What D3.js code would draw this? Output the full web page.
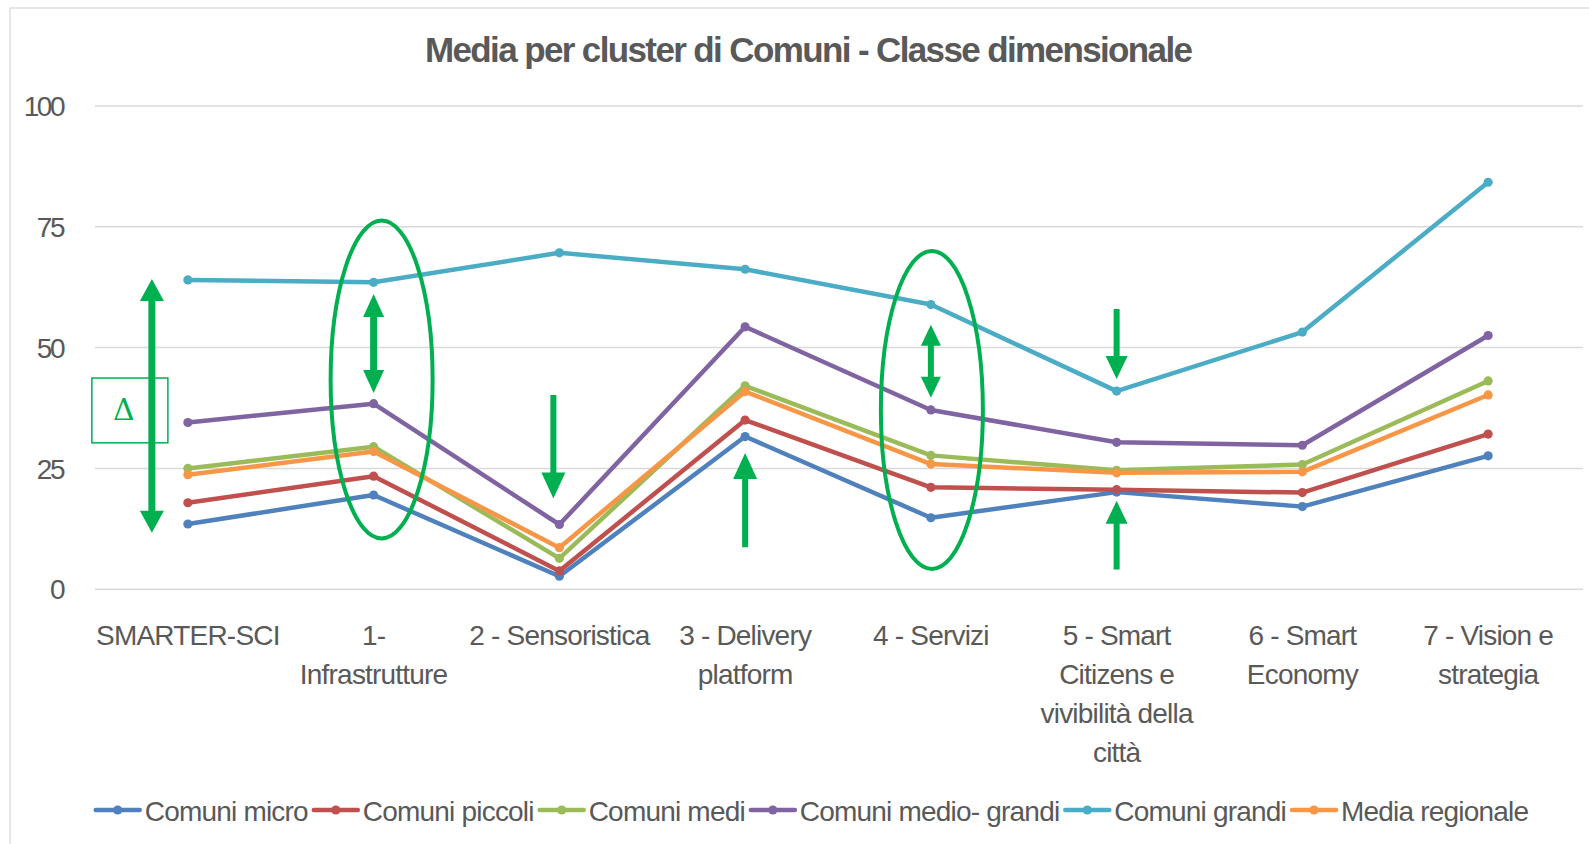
<!DOCTYPE html>
<html><head><meta charset="utf-8">
<script src="https://cdn.jsdelivr.net/npm/d3@7"></script>
<style>body{margin:0;background:#fff;} svg{display:block;font-family:"Liberation Sans",Arial,sans-serif;}</style>
</head><body><svg id="chart" width="1589" height="844"></svg>
<script>
const categories = ["SMARTER-SCI","1-\nInfrastrutture","2 - Sensoristica","3 - Delivery\nplatform","4 - Servizi","5 - Smart\nCitizens e\nvivibilità della\ncittà","6 - Smart\nEconomy","7 - Vision e\nstrategia"];
const seriesNames = ["Comuni micro","Comuni piccoli","Comuni medi","Comuni medio- grandi","Comuni grandi","Media regionale"];
const comuniMicro       = [13.4, 19.4,  2.6, 31.5, 14.7, 20.0, 17.0, 27.5];
const comuniPiccoli     = [17.8, 23.3,  3.7, 34.9, 21.0, 20.5, 19.9, 32.0];
const comuniMedi        = [24.9, 29.4,  6.3, 42.0, 27.6, 24.5, 25.7, 43.0];
const comuniMedioGrandi = [34.4, 38.3, 13.3, 54.2, 37.0, 30.3, 29.7, 52.4];
const comuniGrandi      = [63.9, 63.4, 69.5, 66.1, 58.8, 40.9, 53.1, 84.1];
const mediaRegionale    = [23.6, 28.4,  8.5, 40.8, 25.8, 24.0, 24.2, 40.1];
const yTicks = [0, 25, 50, 75, 100];
const titleText = "Media per cluster di Comuni - Classe dimensionale";

const seriesValues = [comuniMicro, comuniPiccoli, comuniMedi, comuniMedioGrandi, comuniGrandi, mediaRegionale];
const seriesColors = ["#4F81BD","#C0504D","#9BBB59","#8064A2","#4BACC6","#F79646"];
const textColor = "#595959", gridColor = "#D9D9D9", green = "#00B050";

const svg = d3.select("#chart");
svg.append("rect").attr("x",10).attr("y",8).attr("width",1620).attr("height",900)
  .attr("fill","#fff").attr("stroke",gridColor).attr("stroke-width",1.3);

const x = d3.scalePoint().domain(d3.range(categories.length)).range([95,1581]).padding(0.5);
const y = d3.scaleLinear().domain([0,100]).range([588.8,105.4]);

// gridlines + y axis labels
const yAxis = d3.axisLeft(y).tickValues(yTicks).tickSize(-(1583-95)).tickPadding(32);
const gy = svg.append("g").attr("transform","translate(95,0)").call(yAxis);
gy.select(".domain").remove();
gy.selectAll(".tick line").attr("stroke",gridColor).attr("stroke-width",1.5);
gy.selectAll(".tick text").attr("fill",textColor).attr("font-size",28).attr("letter-spacing",-2.5)
  .attr("font-family","Liberation Sans, Arial, sans-serif").attr("dy","0.36em");

// x labels
const gx = svg.append("g");
categories.forEach((c,i)=>{
  const t = gx.append("text").attr("x",x(i)).attr("y",645).attr("text-anchor","middle")
    .attr("fill",textColor).attr("font-size",28).attr("letter-spacing",-0.8);
  c.split("\n").forEach((ln,k)=>{
    t.append("tspan").attr("x",x(i)).attr("y",645+k*39).text(ln);
  });
});

// title
svg.append("text").attr("x",809).attr("y",62).attr("text-anchor","middle")
  .attr("fill",textColor).attr("font-size",35).attr("font-weight","bold")
  .attr("textLength",768).attr("lengthAdjust","spacing").text(titleText);

// series
const line = d3.line().x((d,i)=>x(i)).y(d=>y(d));
seriesValues.forEach((vals,s)=>{
  const g = svg.append("g");
  g.append("path").datum(vals).attr("d",line).attr("fill","none")
    .attr("stroke",seriesColors[s]).attr("stroke-width",4.5).attr("stroke-linejoin","round");
  g.selectAll("circle").data(vals).join("circle")
    .attr("cx",(d,i)=>x(i)).attr("cy",d=>y(d)).attr("r",4.6).attr("fill",seriesColors[s]);
});

// annotations (green)
function arrowPts(px, yFrom, yTo, shaft, headW, headL, both){
  const d = yTo > yFrom ? 1 : -1;
  const baseTo = yTo - d*headL, baseFrom = both ? yFrom + d*headL : yFrom;
  const pts = [];
  if (both) pts.push([px,yFrom],[px+headW/2,baseFrom],[px+shaft/2,baseFrom]);
  else pts.push([px+shaft/2,yFrom]);
  pts.push([px+shaft/2,baseTo],[px+headW/2,baseTo],[px,yTo],[px-headW/2,baseTo],[px-shaft/2,baseTo]);
  if (both) pts.push([px-shaft/2,baseFrom],[px-headW/2,baseFrom]);
  else pts.push([px-shaft/2,yFrom]);
  return pts;
}
const arrows = [
  {cat:0, dx:-36, from:64.1, to:11.6, both:true,  shaft:7, hw:24, hl:22},
  {cat:1, dx:0,   from:61.0, to:40.5, both:true,  shaft:7, hw:21, hl:23},
  {cat:2, dx:-6,  from:40.1, to:18.7, both:false, shaft:6, hw:24, hl:26},
  {cat:3, dx:0,   from:8.6,  to:28.1, both:false, shaft:6, hw:24, hl:26},
  {cat:4, dx:0,   from:54.6, to:39.5, both:true,  shaft:6, hw:20, hl:21},
  {cat:5, dx:0,   from:57.9, to:43.4, both:false, shaft:6, hw:22, hl:23},
  {cat:5, dx:0,   from:4.0,  to:18.2, both:false, shaft:6, hw:22, hl:23}
];
const ga = svg.append("g");
arrows.forEach(a=>{
  ga.append("polygon").attr("points", arrowPts(x(a.cat)+a.dx, y(a.from), y(a.to), a.shaft, a.hw, a.hl, a.both).map(p=>p.join(",")).join(" "))
    .attr("fill",green);
});
const ellipses = [
  {cat:1, dx:8, v:43.3, rx:51, ry:159},
  {cat:4, dx:1, v:37.0, rx:51, ry:159}
];
ellipses.forEach(e=>{
  ga.append("ellipse").attr("cx",x(e.cat)+e.dx).attr("cy",y(e.v)).attr("rx",e.rx).attr("ry",e.ry)
    .attr("fill","none").attr("stroke",green).attr("stroke-width",4);
});
// delta box
const bx = x(0)-96, by = y(43.6), bh = y(30.2)-y(43.6);
ga.append("rect").attr("x",bx).attr("y",by).attr("width",76).attr("height",bh)
  .attr("fill","#fff").attr("fill-opacity",0).attr("stroke",green).attr("stroke-width",1.5);
ga.append("text").attr("x",bx+38-6).attr("y",by+bh/2+10).attr("text-anchor","middle")
  .attr("fill",green).attr("font-size",30).attr("font-family","DejaVu Serif, Liberation Serif, serif").text("Δ");

// legend
const gl = svg.append("g");
const symW = 44, gap1 = 5, gap2 = 6, ly = 810;
let items = seriesNames.map((n,i)=>{
  const t = gl.append("text").attr("y",ly+11).attr("fill",textColor).attr("font-size",28)
    .attr("letter-spacing",-0.8).text(n);
  return {t, w:t.node().getComputedTextLength(), i};
});
const total = d3.sum(items, d=>symW+gap1+d.w+gap2) - gap2;
let cx0 = 812 - total/2;
items.forEach(it=>{
  const c = seriesColors[it.i];
  gl.append("line").attr("x1",cx0).attr("x2",cx0+symW).attr("y1",ly).attr("y2",ly)
    .attr("stroke",c).attr("stroke-width",4.5).attr("stroke-linecap","round");
  gl.append("circle").attr("cx",cx0+symW/2).attr("cy",ly).attr("r",4.6).attr("fill",c);
  it.t.attr("x",cx0+symW+gap1);
  cx0 += symW+gap1+it.w+gap2;
});
</script></body></html>
